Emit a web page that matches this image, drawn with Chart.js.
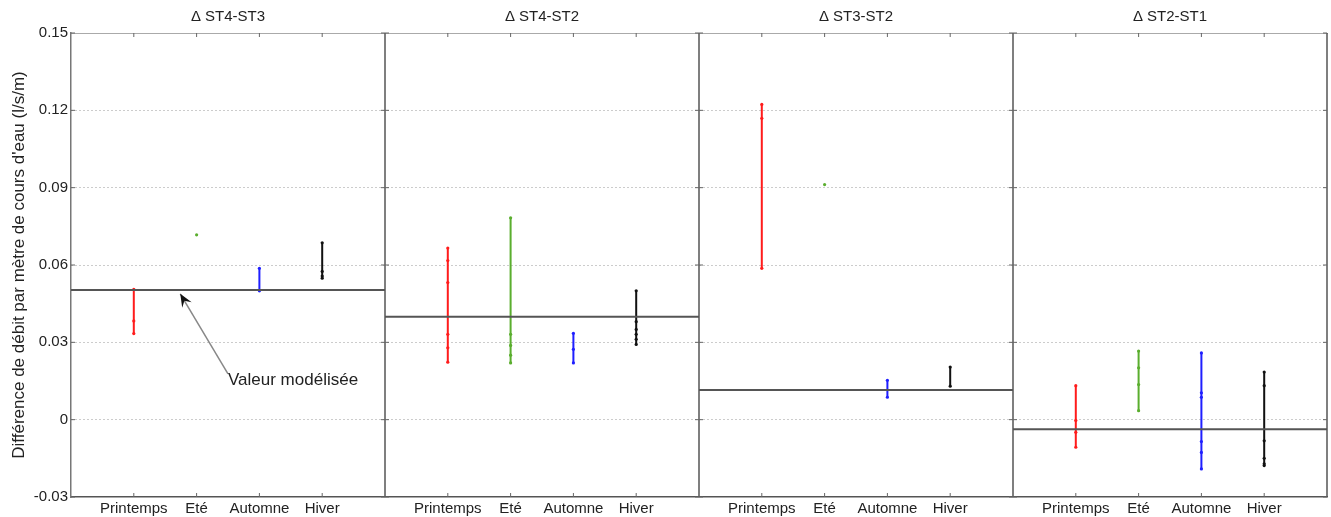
<!DOCTYPE html>
<html>
<head>
<meta charset="utf-8">
<script src="https://cdn.jsdelivr.net/npm/chart.js@4/dist/chart.umd.min.js"></script>
<style>
html,body{margin:0;padding:0;background:#fff}
</style>
</head>
<body>
<canvas id="c" width="1331" height="517"></canvas>
<script>
// panels and categories
var panels = ['Δ ST4-ST3', 'Δ ST4-ST2', 'Δ ST3-ST2', 'Δ ST2-ST1']
var seasons = ['Printemps', 'Eté', 'Automne', 'Hiver']
var yTicks = [-0.03, 0, 0.03, 0.06, 0.09, 0.12, 0.15]

// measured values per panel (l/s/m), one list per season
var printemps = [
    [0.0506, 0.0383, 0.0334],
    [0.0666, 0.0617, 0.0532, 0.0331, 0.0279, 0.0223],
    [0.1223, 0.1169, 0.0587],
    [0.0132, -0.0003, -0.0049, -0.0107]
]
var ete = [
    [0.0717],
    [0.0783, 0.0331, 0.0288, 0.0250, 0.0220],
    [0.0912],
    [0.0266, 0.0201, 0.0136, 0.0035]
]
var automne = [
    [0.0587, 0.0500],
    [0.0335, 0.0273, 0.0220],
    [0.0153, 0.0087],
    [0.0259, 0.0104, 0.0087, -0.0085, -0.0127, -0.0191]
]
var hiver = [
    [0.0686, 0.0575, 0.0557, 0.0549],
    [0.0500, 0.0380, 0.0350, 0.0331, 0.0312, 0.0292],
    [0.0204, 0.0130],
    [0.0185, 0.0132, -0.0082, -0.0150, -0.0171, -0.0178]
]
// modelled value per panel
var model = [0.0503, 0.0399, 0.0115, -0.0037]

var colors = ['#ff1c1c', '#5aae2e', '#1f1fff', '#111111']
var W = 5 // x units per panel

Chart.defaults.font.family = '"Liberation Sans", Arial, sans-serif'
Chart.defaults.color = '#222'

var datasets = []
model.forEach((m, p) => {
    datasets.push({
        data: [{ x: p * W, y: m }, { x: (p + 1) * W, y: m }],
        showLine: true,
        borderColor: '#555',
        borderWidth: 2,
        pointRadius: 0
    })
})
;[printemps, ete, automne, hiver].forEach((s, k) => {
    s.forEach((vals, p) => {
        datasets.push({
            data: vals.map(v => ({ x: p * W + k + 1, y: v })),
            showLine: true,
            borderColor: colors[k],
            backgroundColor: colors[k],
            borderWidth: 2,
            pointRadius: 1.6,
            pointHoverRadius: 1.6,
            pointBorderWidth: 0
        })
    })
})

var isEdge = v => Math.abs(v - 0.15) < 1e-9 || Math.abs(v + 0.03) < 1e-9

var frame = {
    id: 'frame',
    beforeDatasetsDraw(c) {
        var ctx = c.ctx, a = c.chartArea, x = c.scales.x, y = c.scales.y
        var line = (x1, y1, x2, y2) => { ctx.beginPath(); ctx.moveTo(x1, y1); ctx.lineTo(x2, y2); ctx.stroke() }
        ctx.save()
        ctx.strokeStyle = '#555'
        ctx.lineWidth = 1.5
        for (var p = 1; p <= 4; p++) {
            var px = x.getPixelForValue(p * W)
            line(px, a.top, px, a.bottom)
        }
        ctx.lineWidth = 1
        ctx.strokeStyle = '#666'
        y.ticks.forEach(t => {
            var py = y.getPixelForValue(t.value)
            for (var p = 0; p <= 4; p++) {
                var px = x.getPixelForValue(p * W)
                if (p < 4) line(px, py, px + 4, py)
                if (p > 0) line(px - 4, py, px, py)
            }
        })
        x.ticks.forEach(t => {
            var px = x.getPixelForValue(t.value)
            line(px, a.bottom, px, a.bottom - 4)
            line(px, a.top, px, a.top + 4)
        })
        ctx.restore()
    }
}

var note = {
    id: 'note',
    afterDatasetsDraw(c) {
        var ctx = c.ctx, x = c.scales.x, y = c.scales.y
        var tx = x.getPixelForValue(1.74), ty = y.getPixelForValue(0.0488)
        var sx = x.getPixelForValue(2.5), sy = y.getPixelForValue(0.0178)
        ctx.save()
        ctx.strokeStyle = '#888'
        ctx.lineWidth = 1.5
        ctx.beginPath(); ctx.moveTo(sx, sy); ctx.lineTo(tx, ty); ctx.stroke()
        var ang = Math.atan2(ty - sy, tx - sx)
        var cs = Math.cos(ang), sn = Math.sin(ang)
        ctx.fillStyle = '#111'
        ctx.beginPath()
        ctx.moveTo(tx, ty)
        ctx.lineTo(tx - 13 * cs + 5.5 * sn, ty - 13 * sn - 5.5 * cs)
        ctx.lineTo(tx - 8 * cs, ty - 8 * sn)
        ctx.lineTo(tx - 13 * cs - 5.5 * sn, ty - 13 * sn + 5.5 * cs)
        ctx.closePath()
        ctx.fill()
        ctx.font = '17px "Liberation Sans", Arial, sans-serif'
        ctx.fillStyle = '#222'
        ctx.textBaseline = 'middle'
        ctx.fillText('Valeur modélisée', sx, y.getPixelForValue(0.0153))
        ctx.restore()
    }
}

new Chart(document.getElementById('c'), {
    type: 'scatter',
    data: { datasets: datasets },
    plugins: [frame, note],
    options: {
        responsive: false,
        animation: false,
        devicePixelRatio: 1,
        layout: { padding: { left: 0, right: 4, top: 0, bottom: 0 } },
        plugins: { legend: { display: false }, tooltip: { enabled: false } },
        scales: {
            x: {
                type: 'linear', min: 0, max: 4 * W,
                afterBuildTicks: s => {
                    var t = []
                    for (var p = 0; p < 4; p++) for (var k = 1; k <= 4; k++) t.push({ value: p * W + k })
                    s.ticks = t
                },
                ticks: { callback: (v, i) => seasons[i % 4], autoSkip: false, maxRotation: 0, padding: 3, font: { size: 15 } },
                grid: { display: false, drawTicks: false },
                border: { color: '#555', width: 1.5 },
                afterFit: s => { s.height = 20 }
            },
            x2: {
                type: 'linear', position: 'top', min: 0, max: 4 * W,
                afterBuildTicks: s => { s.ticks = panels.map((t, i) => ({ value: i * W + W / 2 })) },
                ticks: { callback: (v, i) => panels[i], autoSkip: false, maxRotation: 0, padding: 7, font: { size: 15 } },
                grid: { display: false, drawTicks: false },
                border: { color: '#aaa', width: 1 },
                afterFit: s => { s.height = 33 }
            },
            y: {
                min: -0.03, max: 0.15,
                afterBuildTicks: s => { s.ticks = yTicks.map(v => ({ value: v })) },
                ticks: { callback: v => (+v.toFixed(2)) + '', padding: 3, font: { size: 15 } },
                grid: { color: c => isEdge(c.tick.value) ? 'rgba(0,0,0,0)' : '#999', lineWidth: 1, drawTicks: false },
                border: { color: '#777', width: 1.5, dash: [1, 3] },
                title: { display: true, text: "Différence de débit par mètre de cours d'eau (l/s/m)", font: { size: 17 }, padding: { top: 9, bottom: 0 } },
                afterFit: s => { s.width = 71 }
            }
        }
    }
})
</script>
</body>
</html>
